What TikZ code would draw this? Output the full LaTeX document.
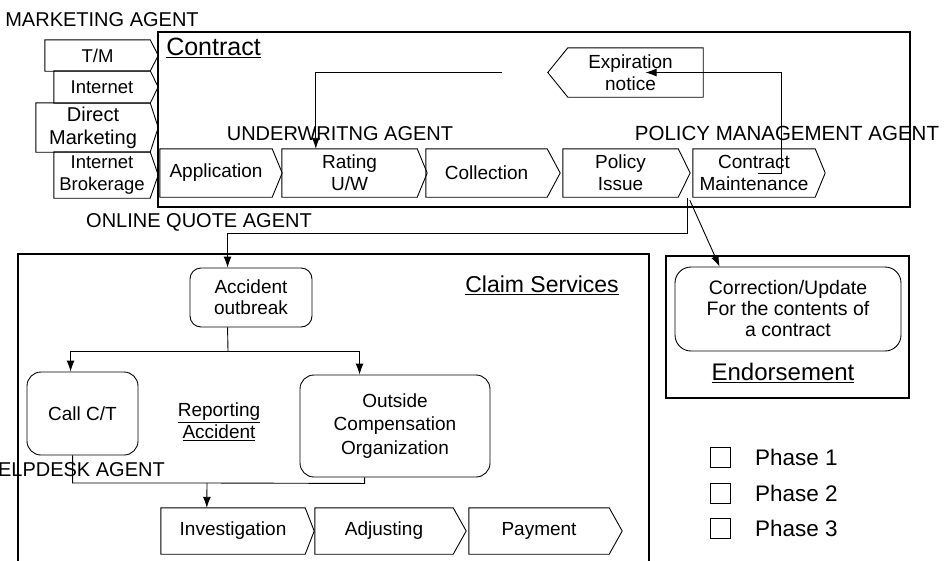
\documentclass[tikz,border=0pt]{standalone}
\usepackage{fontspec}
\setmainfont{Liberation Sans}
\usetikzlibrary{arrows.meta,calc}
\tikzset{
  ln/.style={line width=0.9pt},
  arr/.style={line width=0.9pt,-{Latex[length=11pt,width=8pt]}},
  frame/.style={draw,line width=1.1pt,inner sep=0pt},
  seg/.style={rectangle,inner sep=0pt,align=center,font=\fontsize{19}{22}\selectfont},
  mseg/.style={rectangle,inner sep=0pt,align=center,font=\fontsize{18.5}{22}\selectfont},
  cseg/.style={rectangle,inner sep=0pt,align=center,font=\fontsize{19}{21}\selectfont},
  rbox/.style={draw,line width=0.9pt,rounded corners=14pt,inner sep=0pt,align=center,font=\fontsize{19}{21}\selectfont},
  agent/.style={inner sep=0pt,font=\fontsize{20}{24}\selectfont},
  legbox/.style={draw,line width=0.8pt,minimum width=20pt,minimum height=20pt,inner sep=0pt},
  legtxt/.style={inner sep=0pt,anchor=west,font=\fontsize{22.5}{26}\selectfont}
}
\newcommand{\chevE}[2]{\draw[ln] (#1.north west) -- (#1.north east) -- ($(#1.east)+(#2,0)$) -- (#1.south east) -- (#1.south west) -- cycle;}
\begin{document}
\begin{tikzpicture}[x=1pt,y=-1pt]
\useasboundingbox (0,0) rectangle (944,560);

% containers
\node[frame,minimum width=752pt,minimum height=175pt] (contract) at (534,119.5) {};
\node[frame,minimum width=631pt,minimum height=310pt] (claims) at (333.5,409) {};
\node[frame,minimum width=243pt,minimum height=142pt] (endorse) at (787.5,327) {};

% titles and agent labels
\node[agent] (mkt) at (102,20) {MARKETING AGENT};
\node[inner sep=0pt,font=\fontsize{25}{28}\selectfont] (ctitle) at (213.5,48) {\underline{Contract}};
\node[agent] (uw) at (340,134) {UNDERWRITNG AGENT};
\node[agent,font=\fontsize{20.5}{24}\selectfont] (pm) at (787,133) {POLICY MANAGEMENT AGENT};
\node[agent] (oq) at (199,222) {ONLINE QUOTE AGENT};
\node[agent,anchor=east] (hd) at (165,470) {HELPDESK AGENT};
\node[inner sep=0pt,font=\fontsize{23}{26}\selectfont] (cstitle) at (542,285) {\underline{Claim Services}};
\node[inner sep=0pt,align=center,font=\fontsize{19}{22}\selectfont] (rep) at (219,422) {\underline{Reporting}\\\underline{Accident}};
\node[inner sep=0pt,font=\fontsize{24}{27}\selectfont] (etitle) at (783,373) {\underline{Endorsement}};

% marketing channels
\node[mseg,minimum width=105pt,minimum height=31pt] (tm) at (97.5,55.5) {T/M};
\node[mseg,minimum width=96pt,minimum height=32pt] (inet) at (102,87) {Internet};
\node[mseg,font=\fontsize{20}{23}\selectfont,minimum width=114pt,minimum height=49pt] (dm) at (93,127.5) {Direct\\Marketing};
\node[mseg,minimum width=96pt,minimum height=46pt] (ib) at (102,175) {Internet\\Brokerage};
\chevE{tm}{8}
\chevE{inet}{8}
\chevE{dm}{8}
\chevE{ib}{8}

% contract process
\node[seg,minimum width=112pt,minimum height=48pt] (app) at (216,173) {Application};
\node[seg,minimum width=135pt,minimum height=48pt] (rat) at (349.5,173) {Rating\\U/W};
\node[seg,minimum width=121pt,minimum height=48pt] (col) at (486.5,173) {Collection};
\node[seg,minimum width=115pt,minimum height=48pt] (pol) at (620.5,173) {Policy\\Issue};
\node[seg,minimum width=122pt,minimum height=48pt] (cm) at (754,173) {Contract\\Maintenance};
\chevE{app}{10}
\chevE{rat}{10}
\chevE{col}{13}
\chevE{pol}{12}
\chevE{cm}{10}

\node[seg,minimum width=135pt,minimum height=49pt] (exp) at (635.5,72.5) {\hspace*{-10pt}Expiration\\\hspace*{-10pt}notice};
\draw[ln] (exp.north east) -- (exp.north west) -- ($(exp.west)+(-20,0)$) -- (exp.south west) -- (exp.south east) -- cycle;

% claim process
\node[rbox,minimum width=122pt,minimum height=59pt,rounded corners=11pt] (acc) at (251,297.5) {Accident\\outbreak};
\node[rbox,minimum width=111pt,minimum height=83pt] (call) at (82.5,413.5) {Call C/T};
\node[rbox,minimum width=190pt,minimum height=102pt,font=\fontsize{19}{23.5}\selectfont] (ocomp) at (395,426) {Outside\\Compensation\\Organization};
\node[cseg,minimum width=144pt,minimum height=46pt] (inv) at (233,531) {Investigation};
\node[cseg,minimum width=138pt,minimum height=46pt] (adj) at (384,531) {Adjusting};
\node[cseg,minimum width=140pt,minimum height=46pt] (pay) at (539,531) {Payment};
\chevE{inv}{9}
\chevE{adj}{13}
\chevE{pay}{13}

% endorsement
\node[rbox,minimum width=226pt,minimum height=84pt,rounded corners=16pt,font=\fontsize{19.5}{21}\selectfont] (corr) at (788,309) {Correction/Update\\For the contents of\\a contract};

% legend
\node[legbox] (l1) at (720,457) {};
\node[legbox] (l2) at (720,493) {};
\node[legbox] (l3) at (720,528) {};
\node[legtxt] (t1) at (755,457) {Phase 1};
\node[legtxt] (t2) at (755,493) {Phase 2};
\node[legtxt] (t3) at (755,528) {Phase 3};

% connectors
\coordinate (s1) at (502,72);
\draw[arr] (s1) -| ($(rat.north west)+(34,0)$);
\draw[arr] ($(cm.center)+(4,0)$) -- ++(23,0) |- ($(exp.center)+(10,0)$);
\draw[arr] ($(cm.south west)+(-5,1)$) -- ++(0,35) -| ($(acc.north west)+(38,0)$);
\draw[arr] ($(cm.south west)+(-3,3)$) -- ($(corr.north west)+(45,0)$);
\coordinate (j1) at (228,351);
\draw[ln] ($(acc.south west)+(38,0)$) -- (j1);
\draw[arr] (j1) -| ($(call.north west)+(44,0)$);
\draw[arr] (j1) -| ($(ocomp.north west)+(60,0)$);
\coordinate (j2) at (207,483);
\draw[ln] ($(call.south west)+(46,0)$) |- (j2) -- ($(ocomp.south west)+(65,6)$) -- ($(ocomp.south west)+(65,0)$);
\draw[arr] (j2) -- ($(inv.north west)+(46,0)$);
\end{tikzpicture}
\end{document}
